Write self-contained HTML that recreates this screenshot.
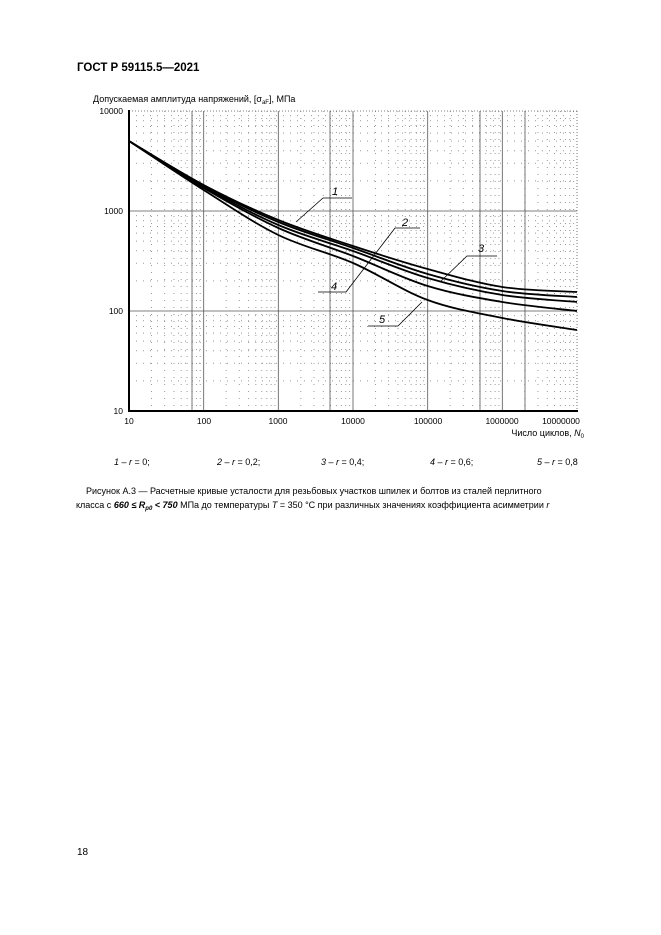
<!DOCTYPE html>
<html><head><meta charset="utf-8"><style>
body{margin:0;background:#fff;}
svg{display:block;font-family:"Liberation Sans",Arial,sans-serif;}
</style></head><body>
<svg id="s" width="661" height="935" viewBox="0 0 661 935" xmlns="http://www.w3.org/2000/svg">
<text x="77" y="71" font-size="11.5" font-weight="bold">ГОСТ Р 59115.5—2021</text>
<text x="93" y="102" font-size="9">Допускаемая амплитуда напряжений, [σ<tspan font-size="6" dy="2">aF</tspan><tspan dy="-2">], МПа</tspan></text>
<g id="minor" stroke="#999" stroke-width="1" stroke-dasharray="1,6"></g>
<g stroke="#555" stroke-width="0.8">
<line x1="203.7" y1="111" x2="203.7" y2="411"/><line x1="278.3" y1="111" x2="278.3" y2="411"/><line x1="353" y1="111" x2="353" y2="411"/><line x1="427.7" y1="111" x2="427.7" y2="411"/><line x1="502.3" y1="111" x2="502.3" y2="411"/>
<line x1="192" y1="111" x2="192" y2="411"/><line x1="330" y1="111" x2="330" y2="411"/><line x1="480" y1="111" x2="480" y2="411"/><line x1="525" y1="111" x2="525" y2="411"/>
<line x1="129" x2="577" y1="211" y2="211"/><line x1="129" x2="577" y1="311" y2="311"/>
<line x1="129" x2="577" y1="111" y2="111" stroke-dasharray="1,2"/>
<line x1="577" y1="111" x2="577" y2="411" stroke-dasharray="1,2"/>
</g>
<line x1="129" y1="110" x2="129" y2="412" stroke="#000" stroke-width="2"/>
<line x1="128" y1="411" x2="578" y2="411" stroke="#000" stroke-width="2"/>
<g id="curves" fill="none" stroke="#000" stroke-width="1.8"></g>
<g fill="none" stroke="#000" stroke-width="0.8">
<polyline points="296,222 323,198 352,198"/>
<polyline points="318,292 346,292 395,228 420,228"/>
<polyline points="440,282 467,256 497,256"/>
<polyline points="368,326 398,326 422,302"/>
</g>
<g font-size="11" font-style="italic">
<text x="332" y="195">1</text><text x="402" y="226">2</text><text x="478" y="252">3</text><text x="331" y="290">4</text><text x="379" y="323">5</text>
</g>
<g font-size="8.5" text-anchor="end">
<text x="123" y="114">10000</text><text x="123" y="214">1000</text><text x="123" y="314">100</text><text x="123" y="414">10</text>
</g>
<g font-size="8.5" text-anchor="middle">
<text x="129" y="424">10</text><text x="204" y="424">100</text><text x="278" y="424">1000</text><text x="353" y="424">10000</text><text x="428" y="424">100000</text><text x="502" y="424">1000000</text><text x="561" y="424">10000000</text>
</g>
<text x="584" y="436" font-size="9" text-anchor="end">Число циклов, <tspan font-style="italic">N</tspan><tspan font-size="6" dy="2">0</tspan></text>
<g font-size="9">
<text x="114" y="465"><tspan font-style="italic">1 – r</tspan> = 0;</text>
<text x="217" y="465"><tspan font-style="italic">2 – r</tspan> = 0,2;</text>
<text x="321" y="465"><tspan font-style="italic">3 – r</tspan> = 0,4;</text>
<text x="430" y="465"><tspan font-style="italic">4 – r</tspan> = 0,6;</text>
<text x="537" y="465"><tspan font-style="italic">5 – r</tspan> = 0,8</text>
<text x="86" y="494">Рисунок А.3 — Расчетные кривые усталости для резьбовых участков шпилек и болтов из сталей перлитного</text>
<text x="76" y="508">класса с <tspan font-weight="bold" font-style="italic">660 ≤ R</tspan><tspan font-size="6" font-weight="bold" font-style="italic" dy="2">p0</tspan><tspan font-weight="bold" font-style="italic" dy="-2"> &lt; 750</tspan> МПа до температуры <tspan font-style="italic">T</tspan> = 350 °С при различных значениях коэффициента асимметрии <tspan font-style="italic">r</tspan></text>
</g>
<text x="77" y="855" font-size="10">18</text>
</svg>
<script>
var NS="http://www.w3.org/2000/svg";
var X0=129,D=74.667;
var mg=document.getElementById("minor");
function ln(x1,y1,x2,y2){var l=document.createElementNS(NS,"line");l.setAttribute("x1",x1);l.setAttribute("y1",y1);l.setAttribute("x2",x2);l.setAttribute("y2",y2);mg.appendChild(l);}
for(var d=0;d<6;d++)for(var k=2;k<10;k++){var x=X0+D*(d+Math.log10(k));ln(x,111,x,411);}
for(var d=0;d<3;d++)for(var k=2;k<10;k++){var y=411-100*(d+Math.log10(k));ln(129,y,577,y);}
var data=[[141,185,220,246,269,287,292],[141,186,222,248,274,291,297],[141,187,225,251,278,295,302],[141,188,228,256,286,302,311],[141,190,235,263,300,318,330]];
var cg=document.getElementById("curves");
data.forEach(function(ys){
 var p=ys.map(function(y,i){return [X0+D*i,y];});
 var s="M"+p[0][0]+","+p[0][1];
 for(var i=0;i<p.length-1;i++){
  var a=p[i-1]||p[i],b=p[i],c=p[i+1],e=p[i+2]||p[i+1];
  var c1=[b[0]+(c[0]-a[0])/6,b[1]+(c[1]-a[1])/6],c2=[c[0]-(e[0]-b[0])/6,c[1]-(e[1]-b[1])/6];
  s+=" C"+c1+" "+c2+" "+c;
 }
 var pa=document.createElementNS(NS,"path");pa.setAttribute("d",s);cg.appendChild(pa);
});
</script>
</body></html>
